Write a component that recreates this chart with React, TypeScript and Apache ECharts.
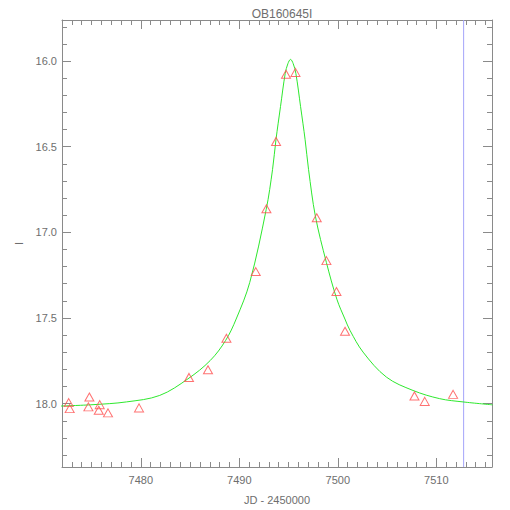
import React, { useEffect, useRef } from "react";
import * as echarts from "echarts";

const titleText = "OB160645I";
const xName = "JD - 2450000";
const yName = "I";

// observed photometry (JD-2450000, I mag)
const obsJD = [
  7472.68, 7472.78, 7474.78, 7474.68, 7475.83, 7475.73, 7476.67, 7479.82,
  7484.89, 7486.82, 7488.69, 7491.67, 7492.75, 7493.73, 7494.74, 7495.7,
  7497.86, 7498.84, 7499.86, 7500.73, 7507.78, 7508.82, 7511.7,
];
const obsMag = [
  17.994, 18.029, 17.961, 18.019, 18.006, 18.039, 18.054, 18.025,
  17.847, 17.802, 17.618, 17.229, 16.862, 16.469, 16.077, 16.066,
  16.915, 17.165, 17.345, 17.577, 17.955, 17.987, 17.946,
];

// model curve
const modelJD = [
  7471.9, 7475.15, 7478.54, 7481.92, 7484.79, 7487.05, 7488.6, 7489.68,
  7491.06, 7492.73, 7493.37, 7493.72, 7494.18, 7494.66, 7494.93, 7495.2,
  7495.47, 7495.74, 7496.22, 7496.68, 7497.03, 7497.72, 7498.84, 7499.9,
  7500.72, 7501.25, 7502.56, 7504.93, 7507.63, 7510.34, 7512.71, 7515.7,
];
const modelMag = [
  18.014, 18.006, 17.99, 17.952, 17.855, 17.748, 17.632, 17.506,
  17.292, 16.866, 16.634, 16.459, 16.266, 16.072, 16.015, 15.99,
  16.015, 16.072, 16.266, 16.459, 16.634, 16.905, 17.176, 17.39,
  17.506, 17.574, 17.699, 17.845, 17.923, 17.971, 17.99, 18.007,
];

const markerJD = 7512.77;

const xMin = 7472;
const xMax = 7515.65;
const yMin = 15.76;
const yMax = 18.37;

const xMajor = [7480, 7490, 7500, 7510];
const yMajor = [16.0, 16.5, 17.0, 17.5, 18.0];
const xMinor: number[] = [];
for (let v = 7472; v <= 7515; v++) xMinor.push(v);
const yMinor: number[] = [];
for (let i = 158; i <= 183; i++) yMinor.push(Math.round(i * 10) / 100);

const axisColor = "#8a8a8a";
const textColor = "#6e6e6e";
const font = "Liberation Sans";

export default function App() {
  const ref = useRef<HTMLDivElement>(null);
  useEffect(() => {
    if (!ref.current) return;
    const chart = echarts.init(ref.current, undefined, { renderer: "svg" });

    const mkX = (pos: "bottom" | "top", major: boolean, labels: boolean, name?: string) => ({
      type: "value",
      position: pos,
      min: xMin,
      max: xMax,
      gridIndex: 0,
      name: name,
      nameLocation: "middle",
      nameGap: 27,
      nameTextStyle: { color: textColor, fontFamily: font, fontSize: 11 },
      axisLine: { show: major, onZero: false, lineStyle: { color: axisColor, width: 1 } },
      axisTick: {
        show: true,
        inside: true,
        length: major ? 9 : 5,
        customValues: major ? xMajor : xMinor,
        lineStyle: { color: axisColor, width: 1 },
      },
      axisLabel: {
        show: labels,
        customValues: xMajor,
        margin: 7,
        color: textColor,
        fontFamily: font,
        fontSize: 11,
        formatter: (v: number) => String(Math.round(v)),
      },
      splitLine: { show: false },
    });

    const mkY = (pos: "left" | "right", major: boolean, labels: boolean, name?: string) => ({
      type: "value",
      position: pos,
      inverse: true,
      min: yMin,
      max: yMax,
      gridIndex: 0,
      name: name,
      nameLocation: "middle",
      nameGap: 36,
      nameRotate: 90,
      nameTextStyle: { color: textColor, fontFamily: font, fontSize: 11 },
      axisLine: { show: major, onZero: false, lineStyle: { color: axisColor, width: 1 } },
      axisTick: {
        show: true,
        inside: true,
        length: major ? 9 : 5,
        customValues: major ? yMajor : yMinor,
        lineStyle: { color: axisColor, width: 1 },
      },
      axisLabel: {
        show: labels,
        customValues: yMajor,
        margin: 5,
        color: textColor,
        fontFamily: font,
        fontSize: 11,
        formatter: (v: number) => v.toFixed(1),
      },
      splitLine: { show: false },
    });

    chart.setOption({
      animation: false,
      backgroundColor: "#ffffff",
      title: {
        text: titleText,
        left: 277,
        top: 3,
        textAlign: "center",
        textStyle: { color: textColor, fontFamily: font, fontSize: 12, fontWeight: "normal" },
      },
      grid: { left: 62, right: 18, top: 20, bottom: 41, containLabel: false },
      xAxis: [
        mkX("bottom", true, true, xName),
        mkX("bottom", false, false),
        mkX("top", true, false),
        mkX("top", false, false),
      ],
      yAxis: [
        mkY("left", true, true, yName),
        mkY("left", false, false),
        mkY("right", true, false),
        mkY("right", false, false),
      ],
      series: [
        {
          type: "line",
          xAxisIndex: 0,
          yAxisIndex: 0,
          data: [
            [markerJD, yMin],
            [markerJD, yMax],
          ],
          showSymbol: false,
          silent: true,
          lineStyle: { color: "#a4a4fa", width: 1 },
          z: 1,
        },
        {
          type: "line",
          xAxisIndex: 0,
          yAxisIndex: 0,
          data: modelJD.map((x, i) => [x, modelMag[i]]),
          showSymbol: false,
          smooth: 0.35,
          clip: true,
          lineStyle: { color: "#2ee82e", width: 1 },
          z: 2,
        },
        {
          type: "scatter",
          xAxisIndex: 0,
          yAxisIndex: 0,
          data: obsJD.map((x, i) => [x, obsMag[i]]),
          symbol: "triangle",
          symbolSize: [9, 8],
          itemStyle: { color: "rgba(255,255,255,0)", borderColor: "#ff4d4d", borderWidth: 1 },
          z: 3,
        },
      ],
    });
    return () => chart.dispose();
  }, []);

  return (
    <div
      ref={ref}
      style={{ position: "fixed", left: 0, top: 0, width: 510, height: 510, background: "#fff" }}
    />
  );
}
